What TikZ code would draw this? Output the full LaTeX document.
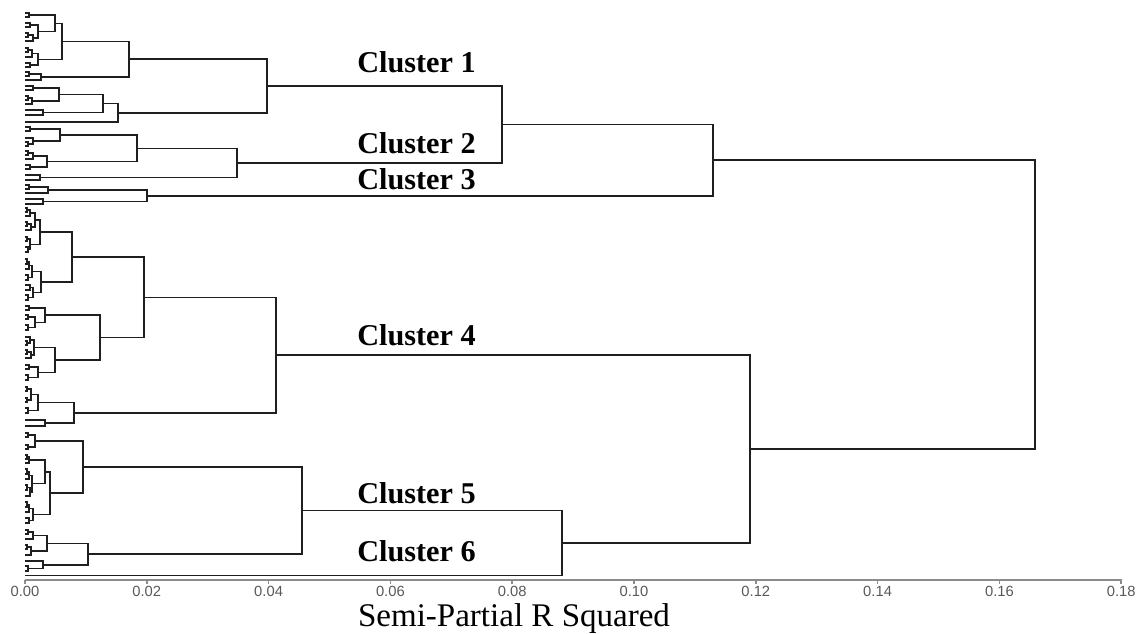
\documentclass[tikz,border=0pt]{standalone}
\usepackage{fontspec}
\setmainfont{Liberation Serif}
\newfontfamily\axfont{Liberation Sans}
\usetikzlibrary{calc}
\tikzset{
  dl/.style={line width=0.85pt, black!88, line join=miter},
  axline/.style={line width=0.9pt, black!45},
  ticklab/.style={font=\axfont\fontsize{8.4}{10}\selectfont, text=black!65, anchor=base, inner sep=0pt},
  clab/.style={font=\bfseries\fontsize{17.2}{20}\selectfont, anchor=base west, inner sep=0pt},
  xlab/.style={font=\fontsize{18.8}{22}\selectfont, anchor=base, inner sep=0pt}
}
% pair of leaves joined at x
\newcommand\pr[4]{%
  \coordinate (#1) at (#2,{(#3+#4)/2});
  \draw[dl] (25,#3) -| (#1) |- (25,#4);}
% bracket joining two children at x (height = midpoint)
\newcommand\br[4]{%
  \coordinate (tmpm) at ($(#3)!.5!(#4)$);
  \path let \p1=(tmpm), \p2=(#2,0) in coordinate (#1) at (\x2,\y1);
  \draw[dl] (#3) -| (#1) |- (#4);}
\begin{document}
\begin{tikzpicture}[x=0.02cm, y=-0.02cm]
\useasboundingbox (0,0) rectangle (1136,633);
% ---------- Cluster 1
\pr{a}{29}{13}{17}
\pr{b1}{30}{23}{27}
\pr{b2a}{28}{33}{37}
\br{b2}{33}{b2a}{25,41}
\br{b}{38}{b1}{b2}
\br{A11}{55}{a}{b}
\pr{c1}{28}{48}{52}
\br{c}{32}{c1}{25,57}
\pr{d}{30}{63}{67}
\br{A12}{38}{c}{d}
\br{A1}{62}{A11}{A12}
\pr{A2a}{29}{72}{76}
\br{A2}{41}{A2a}{25,80}
\br{A}{129}{A1}{A2}
\pr{Ba1a}{33}{86}{90}
\pr{Ba1b1}{28}{96}{100}
\br{Ba1b}{32}{Ba1b1}{25,104}
\br{Ba1}{59}{Ba1a}{Ba1b}
\pr{Ba2}{43}{110}{115}
\br{Ba}{103}{Ba1}{Ba2}
\br{B}{118}{Ba}{25,122}
\br{C1}{267}{A}{B}
% ---------- Cluster 2
\pr{D1a}{30}{127}{131}
\pr{D1b1}{28}{142}{146}
\br{D1b}{33}{25,138}{D1b1}
\br{D1}{60}{D1a}{D1b}
\pr{D2a1}{28}{151}{155}
\br{D2a}{33}{D2a1}{25,159}
\pr{D2b}{30}{165}{169}
\br{D2}{47}{D2a}{D2b}
\br{D}{137}{D1}{D2}
\pr{E}{40}{175}{180}
\br{C2}{237}{D}{E}
\br{C12}{502}{C1}{C2}
% ---------- Cluster 3
\pr{F1a}{29}{185}{189}
\br{F1}{48}{F1a}{25,193}
\pr{F2}{43}{199}{204}
\br{C3}{147}{F1}{F2}
\br{C123}{713}{C12}{C3}
% ---------- Cluster 4
\pr{G111a1}{27}{208}{212}
\br{G111a}{30}{G111a1}{25,216}
\pr{G111b1}{27}{222}{226}
\br{G111b}{31}{G111b1}{25,230}
\br{G111}{35}{G111a}{G111b}
\pr{G112a}{27}{237}{241}
\pr{G112b}{28}{247}{252}
\br{G112}{30}{G112a}{G112b}
\br{G11}{40}{G111}{G112}
\pr{G121a1}{27}{259}{264}
\br{G121a}{29}{G121a1}{25,269}
\pr{G121b}{28}{275}{280}
\br{G121}{32}{G121a}{G121b}
\pr{G122a}{30}{285}{290}
\pr{G122b}{28}{295}{300}
\br{G122}{33}{G122a}{G122b}
\br{G12}{41}{G121}{G122}
\br{G1}{72}{G11}{G12}
\pr{G21a}{29}{306}{310}
\pr{G21b1}{28}{315}{319}
\pr{G21b2}{28}{325}{330}
\br{G21b}{35}{G21b1}{G21b2}
\br{G21}{45}{G21a}{G21b}
\pr{G221a1}{27}{341}{345}
\br{G221a}{30}{25,337}{G221a1}
\pr{G221b1}{27}{350}{354}
\br{G221b}{31}{G221b1}{25,358}
\br{G221}{34}{G221a}{G221b}
\pr{G222a}{29}{365}{369}
\pr{G222b}{28}{375}{380}
\br{G222}{38}{G222a}{G222b}
\br{G22}{55}{G221}{G222}
\br{G2}{100}{G21}{G22}
\br{G}{144}{G1}{G2}
\pr{H1a1}{27}{387}{391}
\pr{H1a2}{27}{398}{402}
\br{H1a}{31}{H1a1}{H1a2}
\pr{H1b}{28}{408}{413}
\br{H1}{38}{H1a}{H1b}
\pr{H2}{45}{420}{426}
\br{H}{74}{H1}{H2}
\br{C4}{276}{G}{H}
% ---------- Cluster 5
\pr{I1a}{28}{433}{437}
\pr{I1b}{28}{445}{449}
\br{I1}{35}{I1a}{I1b}
\pr{I211a}{27}{455}{459}
\br{I211}{29}{I211a}{25,463}
\pr{I212a1}{27}{469}{474}
\br{I212a}{29}{I212a1}{25,479}
\pr{I212b1}{27}{485}{490}
\br{I212b}{30}{I212b1}{25,496}
\br{I212}{32}{I212a}{I212b}
\br{I21}{45}{I211}{I212}
\pr{I22a1}{27}{502}{507}
\br{I22a}{29}{I22a1}{25,512}
\pr{I22b}{29}{518}{523}
\br{I22}{33}{I22a}{I22b}
\br{I2}{50}{I21}{I22}
\br{I}{83}{I1}{I2}
\pr{J11a}{28}{530}{534}
\br{J11}{33}{J11a}{25,539}
\pr{J12a}{27}{545}{549}
\br{J12}{31}{J12a}{25,555}
\br{J1}{47}{J11}{J12}
\pr{J2a}{28}{566}{571}
\br{J2}{43}{25,561}{J2a}
\br{J}{88}{J1}{J2}
\br{C5}{302}{I}{J}
% ---------- Cluster 6 and top joins
\coordinate (C6) at (25,575.5);
\br{C56}{562}{C5}{C6}
\br{C456}{750}{C4}{C56}
\br{R}{1035}{C123}{C456}
% ---------- cluster labels
\node[clab] (l1) at (357,72)  {Cluster 1};
\node[clab] (l2) at (357,153) {Cluster 2};
\node[clab] (l3) at (357,189) {Cluster 3};
\node[clab] (l4) at (357,345) {Cluster 4};
\node[clab] (l5) at (357,503) {Cluster 5};
\node[clab] (l6) at (357,561) {Cluster 6};
% ---------- axis
\coordinate (ax0) at (25,580);
\coordinate (ax1) at (1122,580);
\draw[axline] (ax0) -- (ax1);
\foreach \i/\t in {0/0.00,1/0.02,2/0.04,3/0.06,4/0.08,5/0.10,6/0.12,7/0.14,8/0.16,9/0.18}{
  \draw[axline] ({25+\i*121.8},580) -- ++(0,4);
  \node[ticklab] (t\i) at ({25+\i*121.8},596.5) {\t};
}
\node[xlab] (xl) at (514,626) {Semi-Partial R Squared};
\end{tikzpicture}
\end{document}
